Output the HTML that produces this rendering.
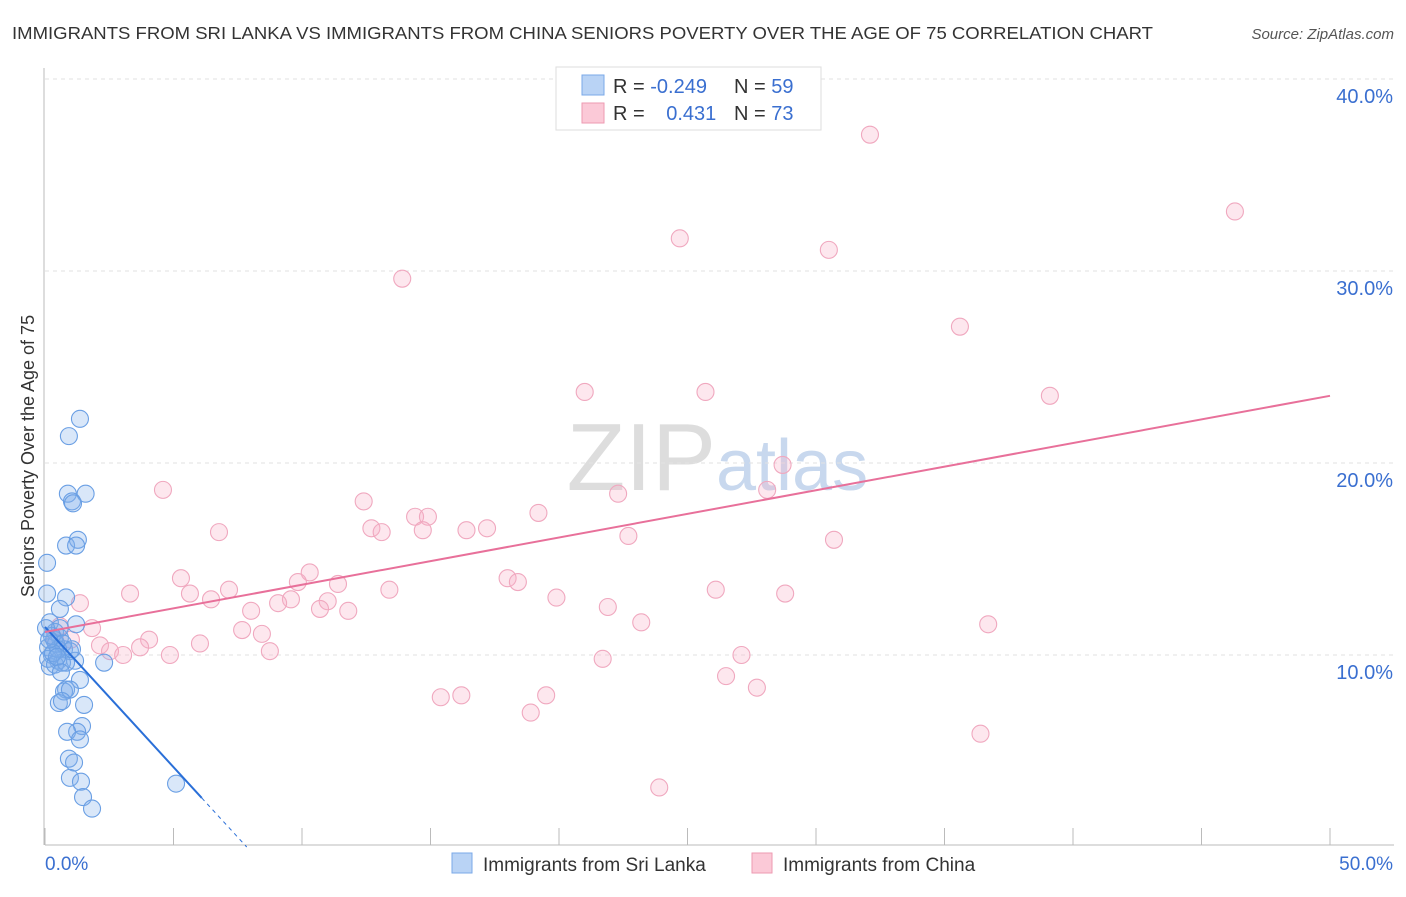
<!DOCTYPE html>
<html><head><meta charset="utf-8"><style>
body{margin:0;background:#fff;font-family:"Liberation Sans",sans-serif;}
svg text{font-family:"Liberation Sans",sans-serif;}
</style></head><body>
<svg id="chart" width="1406" height="892" xmlns="http://www.w3.org/2000/svg">
<text x="12" y="39" font-size="17.5" fill="#333" textLength="1141" lengthAdjust="spacingAndGlyphs">IMMIGRANTS FROM SRI LANKA VS IMMIGRANTS FROM CHINA SENIORS POVERTY OVER THE AGE OF 75 CORRELATION CHART</text>
<text x="1394" y="39" font-size="15" fill="#555" font-style="italic" text-anchor="end">Source: ZipAtlas.com</text>
<text x="716" y="490" font-size="96" fill="#ddd" text-anchor="end" font-family="Liberation Serif">ZIP</text>
<text x="716" y="490" font-size="72" fill="#c8d8ee">atlas</text>
<text transform="translate(34,456) rotate(-90)" font-size="18" fill="#333" text-anchor="middle">Seniors Poverty Over the Age of 75</text>
<g id="grid"></g><g id="axes"></g><g id="pink"></g><g id="blue"></g><g id="lines"></g>
<g>
<rect x="556" y="67" width="265" height="63" fill="#fff" stroke="#ddd"/>
<rect x="582" y="75" width="22" height="20" fill="#b9d3f5" stroke="#7aa8e8"/>
<rect x="582" y="103" width="22" height="20" fill="#fbc9d7" stroke="#ee9ab2"/>
<text x="613" y="93" font-size="20" fill="#333">R = <tspan fill="#3a6fd0">-0.249</tspan></text>
<text x="734" y="93" font-size="20" fill="#333">N = <tspan fill="#3a6fd0">59</tspan></text>
<text x="613" y="120" font-size="20" fill="#333">R = <tspan fill="#3a6fd0" dx="16">0.431</tspan></text>
<text x="734" y="120" font-size="20" fill="#333">N = <tspan fill="#3a6fd0">73</tspan></text>
</g>
<g>
<rect x="452" y="853" width="20" height="20" fill="#b9d3f5" stroke="#7aa8e8"/>
<text x="483" y="871" font-size="19" fill="#333">Immigrants from Sri Lanka</text>
<rect x="752" y="853" width="20" height="20" fill="#fbc9d7" stroke="#ee9ab2"/>
<text x="783" y="871" font-size="19" fill="#333">Immigrants from China</text>
</g>
</svg>
<script>
const yTicks=[10,20,30,40];
const xTickLabels=["0.0%","50.0%"];
const blueX=[1.36,0.93,0.89,1.58,1.05,1.09,0.82,1.28,1.21,0.08,0.08,0.82,0.58,1.21,0.19,0.39,0.58,0.12,0.27,0.51,0.74,0.97,1.17,0.66,0.19,2.30,1.36,0.82,0.74,0.97,0.54,0.66,1.52,1.44,1.25,0.86,1.36,0.93,1.13,0.97,1.40,1.48,1.83,5.10,0.35,0.43,0.58,0.27,0.04,0.12,0.39,0.82,0.51,0.70,0.31,0.47,1.05,0.16,0.62];
const blueY=[22.3,21.4,18.4,18.4,18.0,17.9,15.7,16.0,15.7,14.8,13.2,13.0,12.4,11.6,11.7,11.2,10.9,10.4,10.0,9.7,10.3,10.2,9.7,9.6,9.4,9.6,8.7,8.2,8.1,8.2,7.5,7.6,7.4,6.3,6.0,6.0,5.6,4.6,4.4,3.6,3.4,2.6,2.0,3.3,10.8,10.6,11.4,11.0,11.4,9.8,9.5,9.6,10.3,10.6,10.1,9.9,10.3,10.8,9.1];
const pinkX=[32.1,46.3,24.7,30.5,13.9,35.6,21.0,25.7,39.1,28.7,4.59,28.1,22.3,12.4,19.2,14.4,14.9,12.7,13.1,14.7,16.4,17.2,6.77,22.7,30.7,10.3,5.29,18.0,18.4,9.84,11.4,3.31,5.64,7.16,19.9,13.4,6.46,9.57,9.07,11.0,21.9,8.02,10.7,11.8,1.36,26.1,28.8,23.2,36.7,7.67,1.83,8.44,4.05,1.01,2.14,3.70,2.53,3.04,4.86,6.03,8.75,27.1,21.7,26.5,27.7,19.5,16.2,15.4,18.9,36.4,23.9,0.58,0.39];
const pinkY=[37.1,33.1,31.7,31.1,29.6,27.1,23.7,23.7,23.5,19.9,18.6,18.6,18.4,18.0,17.4,17.2,17.2,16.6,16.4,16.5,16.5,16.6,16.4,16.2,16.0,14.3,14.0,14.0,13.8,13.8,13.7,13.2,13.2,13.4,12.99,13.4,12.9,12.9,12.7,12.8,12.5,12.3,12.4,12.3,12.7,13.4,13.2,11.7,11.6,11.3,11.4,11.1,10.8,10.8,10.5,10.4,10.2,10.0,10.0,10.6,10.2,10.0,9.8,8.9,8.3,7.9,7.9,7.8,7.0,5.9,3.1,11.5,10.8];
const blueFit=[11.46,-1.46];
const pinkFit=[11.2,0.246];
const X0=45,X1=1330,Y0=847,PPY=19.2;
const sx=v=>X0+(X1-X0)*v/50, sy=v=>Y0-v*PPY;
const NS="http://www.w3.org/2000/svg";
function mk(t,a,p){const e=document.createElementNS(NS,t);for(const k in a)e.setAttribute(k,a[k]);p.appendChild(e);return e;}
const grid=document.getElementById('grid'),axes=document.getElementById('axes');
yTicks.forEach(t=>{
 const l=mk('line',{x1:45,x2:1394,y1:sy(t),y2:sy(t),stroke:'#e2e2e2','stroke-dasharray':'4,4'},grid);
 
 
 const tx=mk('text',{x:1393,y:sy(t)+24,'font-size':20,fill:'#3a6fd0','text-anchor':'end'},axes);
 tx.textContent=t.toFixed(1)+'%';
 
 
});
const ax=mk('line',{x1:45,x2:1394,y1:845,y2:845,stroke:'#bbb'},axes);


const ay=mk('line',{x1:44,x2:44,y1:68,y2:845,stroke:'#bbb'},axes);


for(let i=0;i<=10;i++){const t=mk('line',{x1:sx(i*5),x2:sx(i*5),y1:828,y2:845,stroke:'#bbb'},axes);
 
 }
[[0,45,'start'],[50,1393,'end']].forEach((d,i)=>{const t=mk('text',{x:d[1],y:870,'font-size':19,fill:'#3a6fd0','text-anchor':d[2]},axes);t.textContent=xTickLabels[i];
 
 });
function pts(xs,ys,g,fill,stroke,name){xs.forEach((x,i)=>{const c=mk('circle',{cx:sx(x),cy:sy(ys[i]),r:8.5,fill:fill,stroke:stroke,'stroke-width':1.1},g);
 
 });}
pts(pinkX,pinkY,document.getElementById('pink'),'rgba(248,175,198,0.3)','#f0a8bf','china-point');
pts(blueX,blueY,document.getElementById('blue'),'rgba(130,175,235,0.3)','#6a9fe4','sri-lanka-point');
const L=document.getElementById('lines');
const bEnd=Math.max(...blueX);
const b1=mk('line',{x1:sx(0),y1:sy(blueFit[0]),x2:sx(bEnd+1),y2:sy(blueFit[0]+blueFit[1]*(bEnd+1)),stroke:'#2a6fd8','stroke-width':2},L);


const xz=-blueFit[0]/blueFit[1];
const b2=mk('line',{x1:sx(bEnd+1),y1:sy(blueFit[0]+blueFit[1]*(bEnd+1)),x2:sx(xz),y2:sy(0),stroke:'#2a6fd8','stroke-width':1,'stroke-dasharray':'4,4'},L);


const p1=mk('line',{x1:sx(0),y1:sy(pinkFit[0]),x2:sx(50),y2:sy(pinkFit[0]+pinkFit[1]*50),stroke:'#e8709a','stroke-width':2},L);


</script>
</body></html>
